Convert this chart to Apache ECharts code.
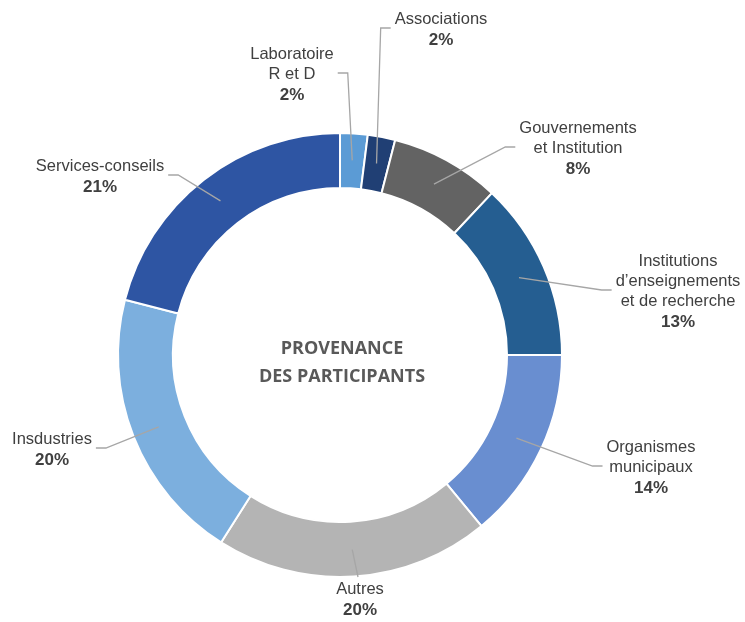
<!DOCTYPE html>
<html>
<head>
<meta charset="utf-8">
<title>Provenance des participants</title>
<script src="https://cdn.jsdelivr.net/npm/echarts@6.0.0/dist/echarts.min.js"></script>
<style>
  html, body { margin: 0; padding: 0; background: #ffffff; }
  #chart { width: 745px; height: 622px; }
</style>
</head>
<body>
<div id="chart"></div>
<script>
// données (sens horaire depuis midi)
var categories = [
  'Laboratoire\nR et D',
  'Associations',
  'Gouvernements\net Institution',
  'Institutions\nd\u2019enseignements\net de recherche',
  'Organismes\nmunicipaux',
  'Autres',
  'Insdustries',
  'Services-conseils'
]
var percents = [2, 2, 8, 13, 14, 20, 20, 21]
var colors = ['#5b9bd5', '#203f74', '#636363', '#255e91', '#698ed0', '#b4b4b4', '#7cafde', '#2e55a3']

// mise en page
var pieCenter = [340, 355]
var pieRadius = [167, 222]
var midRing = 195
// centre de chaque étiquette, décalé du centre du donut
var labelOffset = [
  [-48, -280], [101, -325], [238, -206], [338, -63],
  [311, 113], [20, 245], [-288, 95], [-240, -178]
]

var total = percents.reduce(function (s, v) { return s + v }, 0)
var midAngle = []
var acc = 0
percents.forEach(function (v) {
  midAngle.push((acc + v / 2) / total * Math.PI * 2)
  acc += v
})

var pieData = categories.map(function (c, i) {
  return { name: c, value: percents[i] }
})

var chart = echarts.init(document.getElementById('chart'))

var option = {
  animation: false,
  color: colors,
  title: {
    text: 'PROVENANCE\nDES PARTICIPANTS',
    left: pieCenter[0] - 3,
    top: 330,
    textAlign: 'center',
    textStyle: {
      fontFamily: 'Open Sans',
      fontWeight: 'bold',
      fontSize: 18,
      lineHeight: 28,
      color: '#595959'
    }
  },
  series: [{
    // anneau coloré
    type: 'pie',
    z: 2,
    center: pieCenter,
    radius: pieRadius,
    startAngle: 90,
    clockwise: true,
    label: { show: false },
    labelLine: { show: false },
    itemStyle: {
      borderColor: '#ffffff',
      borderWidth: 2
    },
    data: pieData
  }, {
    // même anneau, transparent, qui porte étiquettes et traits par-dessus
    type: 'pie',
    z: 5,
    silent: true,
    center: pieCenter,
    radius: pieRadius,
    startAngle: 90,
    clockwise: true,
    avoidLabelOverlap: false,
    minShowLabelAngle: 0,
    itemStyle: {
      color: 'rgba(0,0,0,0)',
      borderWidth: 0
    },
    label: {
      show: true,
      position: 'outside',
      align: 'center',
      formatter: function (p) {
        return '{n|' + p.name + '}\n{p|' + p.value + '%}'
      },
      rich: {
        n: {
          fontFamily: 'Liberation Sans',
          fontSize: 16.5,
          lineHeight: 20,
          color: '#404040',
          align: 'center'
        },
        p: {
          fontFamily: 'Liberation Sans',
          fontSize: 17,
          fontWeight: 'bold',
          lineHeight: 22,
          color: '#404040',
          align: 'center'
        }
      }
    },
    labelLine: {
      show: true,
      length: 10,
      length2: 10,
      lineStyle: {
        color: '#a6a6a6',
        width: 1.3
      }
    },
    labelLayout: function (p) {
      var i = p.dataIndex
      var w = p.labelRect.width
      var h = p.labelRect.height
      var cx = pieCenter[0] + labelOffset[i][0]
      var cy = pieCenter[1] + labelOffset[i][1]
      var a = midAngle[i]
      var sx = pieCenter[0] + midRing * Math.sin(a)
      var sy = pieCenter[1] - midRing * Math.cos(a)
      var ex, ey, bx, by
      if (Math.abs(cx - sx) < w / 2) {
        ex = cx - 2
        ey = cy > sy ? cy - h / 2 - 4 : cy + h / 2 + 4
        bx = ex
        by = ey
      } else {
        var right = cx > sx
        ex = right ? cx - w / 2 - 4 : cx + w / 2 + 4
        ey = cy - 2
        bx = right ? ex - 10 : ex + 10
        by = ey
      }
      return {
        x: cx,
        y: cy,
        align: 'center',
        verticalAlign: 'middle',
        labelLinePoints: [[sx, sy], [bx, by], [ex, ey]]
      }
    },
    data: pieData
  }]
}

chart.setOption(option)
</script>
</body>
</html>
